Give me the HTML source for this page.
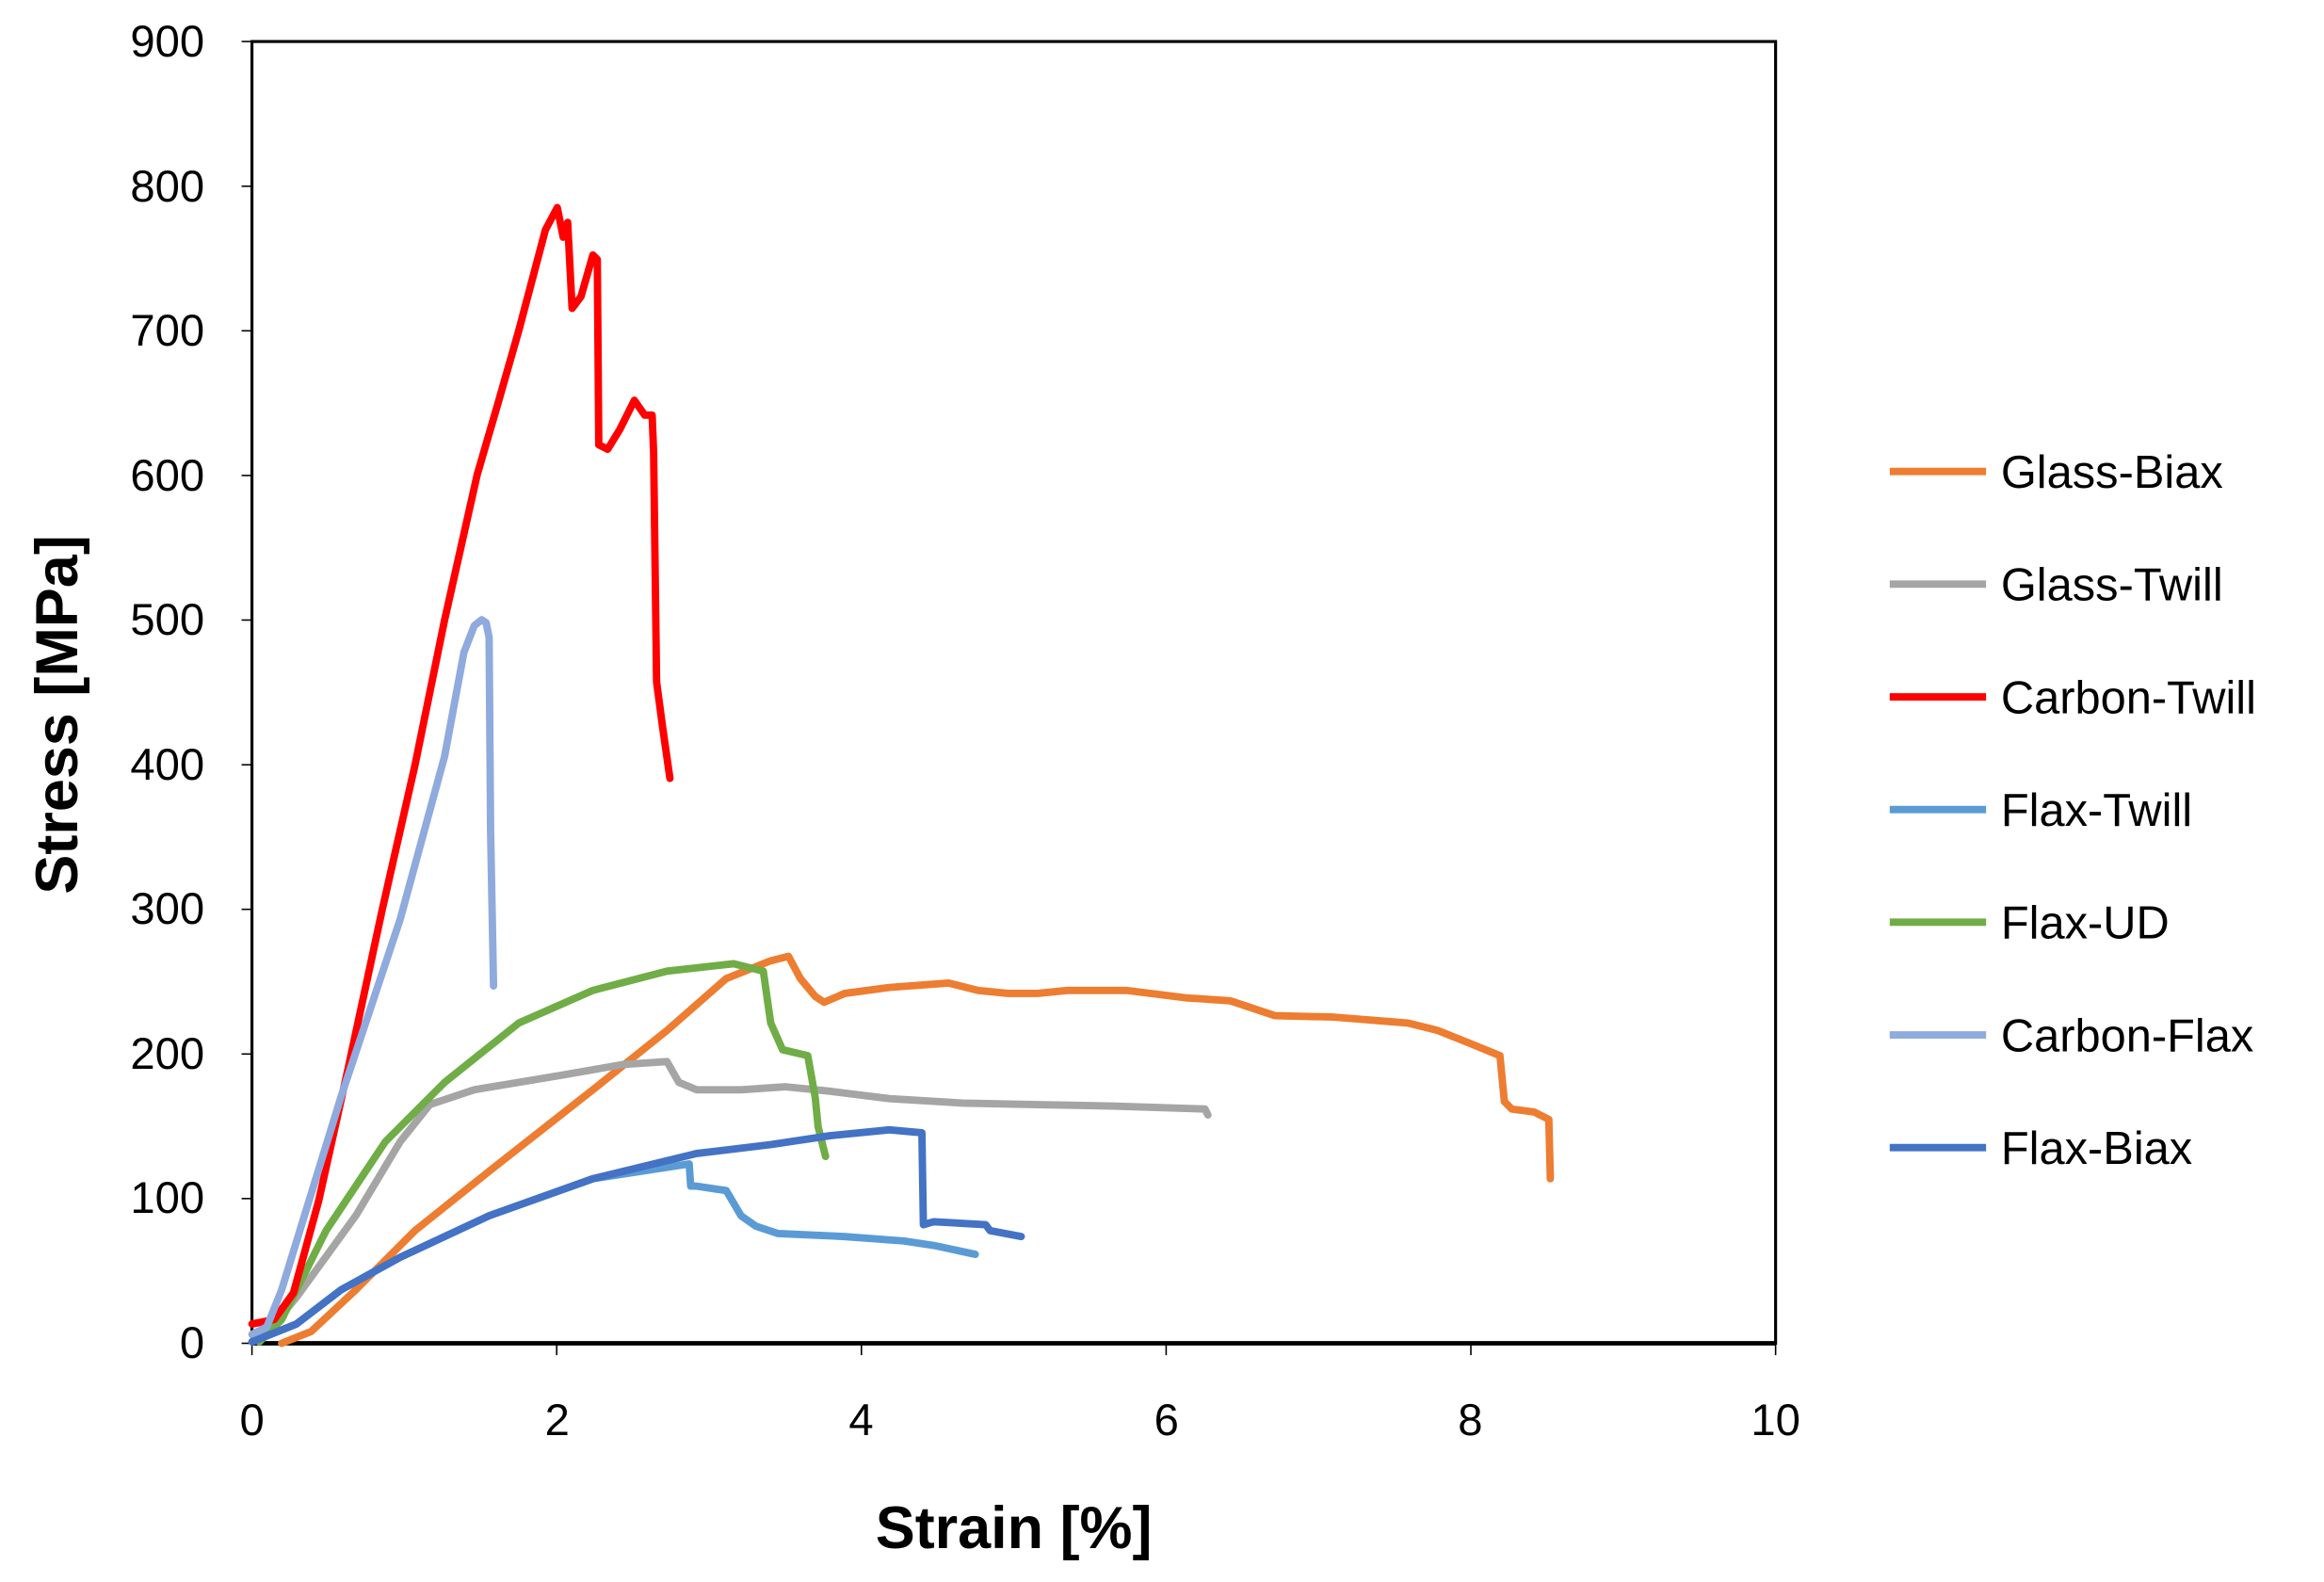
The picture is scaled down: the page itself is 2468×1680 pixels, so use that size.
<!DOCTYPE html>
<html><head><meta charset="utf-8"><style>
html,body{margin:0;padding:0;background:#fff;width:2468px;height:1680px;overflow:hidden}
svg{display:block}
text{font-family:"Liberation Sans",sans-serif;fill:#000}
</style></head><body>
<svg width="2468" height="1680" viewBox="0 0 1568 1067" preserveAspectRatio="none">
<rect width="1568" height="1067" fill="#fff"/>
<rect x="170" y="28" width="1028" height="878" fill="none" stroke="#000" stroke-width="2"/>
<line x1="170" y1="906" x2="1198" y2="906" stroke="#000" stroke-width="3"/>
<g stroke="#000" stroke-width="1">
<line x1="163" y1="28" x2="170" y2="28"/><line x1="163" y1="125.6" x2="170" y2="125.6"/>
<line x1="163" y1="223.1" x2="170" y2="223.1"/><line x1="163" y1="320.7" x2="170" y2="320.7"/>
<line x1="163" y1="418.2" x2="170" y2="418.2"/><line x1="163" y1="515.8" x2="170" y2="515.8"/>
<line x1="163" y1="613.3" x2="170" y2="613.3"/><line x1="163" y1="710.9" x2="170" y2="710.9"/>
<line x1="163" y1="808.4" x2="170" y2="808.4"/><line x1="163" y1="906" x2="170" y2="906"/>
<line x1="170" y1="906" x2="170" y2="914"/><line x1="375.6" y1="906" x2="375.6" y2="914"/>
<line x1="581.2" y1="906" x2="581.2" y2="914"/><line x1="786.8" y1="906" x2="786.8" y2="914"/>
<line x1="992.4" y1="906" x2="992.4" y2="914"/><line x1="1198" y1="906" x2="1198" y2="914"/>
</g>
<g font-size="30" text-anchor="end">
<text x="138" y="38">900</text><text x="138" y="136">800</text><text x="138" y="233">700</text>
<text x="138" y="331">600</text><text x="138" y="428">500</text><text x="138" y="526">400</text>
<text x="138" y="623">300</text><text x="138" y="721">200</text><text x="138" y="818">100</text>
<text x="138" y="916">0</text>
</g>
<g font-size="30" text-anchor="middle">
<text x="170" y="968">0</text><text x="376" y="968">2</text><text x="581" y="968">4</text>
<text x="787" y="968">6</text><text x="992" y="968">8</text><text x="1198" y="968">10</text>
</g>
<text x="684" y="1044" font-size="40" font-weight="bold" text-anchor="middle">Strain [%]</text>
<text transform="translate(52,482) rotate(-90)" font-size="40" font-weight="bold" text-anchor="middle">Stress [MPa]</text>
<g fill="none" stroke-width="5" stroke-linejoin="round" stroke-linecap="round">
<polyline stroke="#ED7D31" points="190,906 210,898 240,870 280,830 330,790 400,735 450,695 490,660 520,648 532,645 540,660 550,672 556,676 570,670 600,666 640,663 660,668 680,670 700,670 720,668 760,668 800,673 830,675 860,685 900,686 950,690 970,695 990,703 1012,712 1015,743 1020,748 1035,750 1045,755 1046,795"/>
<polyline stroke="#A5A5A5" points="175,905 200,875 240,820 270,770 290,745 320,735 350,730 380,725 420,718 450,716 458,730 470,735 500,735 530,733 560,736 600,741 650,744 700,745 750,746 813,748 815,752"/>
<polyline stroke="#5B9BD5" points="170,905 200,893 230,870 270,848 330,820 400,795 465,785 466,800 470,800 490,803 500,820 510,827 525,832 570,834 610,837 630,840 658,846"/>
<polyline stroke="#70AD47" points="175,905 190,890 220,830 260,770 300,730 350,690 400,668 450,655 495,650 515,655 520,690 528,708 545,712 550,740 552,760 557,780"/>
<polyline stroke="#FF0000" points="170,893 185,890 198,872 215,810 235,720 258,613 280,516 300,418 322,320 336,272 350,223 368,155 376,140 380,160 383,150 386,208 392,200 400,172 403,175 404,300 410,303 418,290 428,270 435,280 440,280 441,305 443,460 447,490 452,525"/>
<polyline stroke="#8FAADC" points="170,900 180,895 190,870 230,740 270,620 300,510 313,440 320,422 325,418 328,420 330,430 331,560 333,665"/>
<polyline stroke="#4472C4" points="170,905 200,893 230,870 270,848 330,820 400,795 470,778 520,772 560,766 600,762 622,764 623,826 630,824 665,826 668,830 689,834"/>
</g>
<g stroke-width="5">
<line x1="1275" y1="318" x2="1340" y2="318" stroke="#ED7D31"/>
<line x1="1275" y1="394" x2="1340" y2="394" stroke="#A5A5A5"/>
<line x1="1275" y1="470" x2="1340" y2="470" stroke="#FF0000"/>
<line x1="1275" y1="546" x2="1340" y2="546" stroke="#5B9BD5"/>
<line x1="1275" y1="622" x2="1340" y2="622" stroke="#70AD47"/>
<line x1="1275" y1="698" x2="1340" y2="698" stroke="#8FAADC"/>
<line x1="1275" y1="774" x2="1340" y2="774" stroke="#4472C4"/>
</g>
<g font-size="31">
<text x="1350" y="329">Glass-Biax</text>
<text x="1350" y="405">Glass-Twill</text>
<text x="1350" y="481">Carbon-Twill</text>
<text x="1350" y="557">Flax-Twill</text>
<text x="1350" y="633">Flax-UD</text>
<text x="1350" y="709">Carbon-Flax</text>
<text x="1350" y="785">Flax-Biax</text>
</g>
</svg>
</body></html>
